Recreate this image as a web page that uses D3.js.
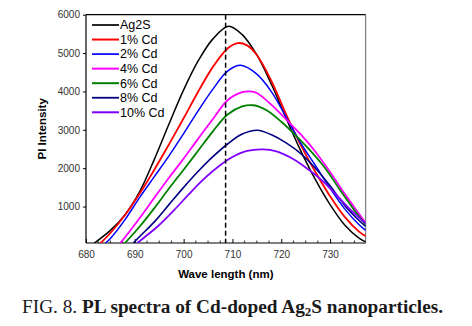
<!DOCTYPE html>
<html>
<head>
<meta charset="utf-8">
<script src="https://cdn.jsdelivr.net/npm/d3@7"></script>
<style>
  body { margin: 0; background: #fff; }
  svg { display: block; font-family: Arial, "Liberation Sans", sans-serif; }
</style>
</head>
<body>
<svg id="chart" width="472" height="326"></svg>
<script>
// PL spectra (wavelength in nm, intensity in counts)
var names = ["Ag2S", "1% Cd", "2% Cd", "4% Cd", "6% Cd", "8% Cd", "10% Cd"];
var colors = ["#000000", "#ff0000", "#0000ff", "#ff00ff", "#008000", "#000080", "#8000ff"];
var widths = [1.5, 1.8, 1.5, 1.8, 1.8, 1.6, 1.8];

var wlAg2S = [681.7, 685, 688, 691, 694, 697, 700, 703, 706, 709.2, 712, 715, 718, 721, 724, 727, 730, 733, 736, 737.3];
var piAg2S = [50, 380, 790, 1390, 2230, 3150, 4040, 4800, 5370, 5700, 5480, 4950, 4180, 3300, 2450, 1700, 1050, 520, 170, 80];

var wlCd1 = [683, 685, 688, 691, 694, 697, 700, 703, 706, 709, 711.1, 713, 715, 718, 721, 724, 727, 730, 733, 736, 737.3];
var piCd1 = [50, 310, 780, 1340, 1960, 2620, 3300, 4000, 4640, 5120, 5260, 5200, 4950, 4270, 3400, 2600, 1900, 1270, 730, 340, 230];

var wlCd2 = [684, 685, 688, 691, 694, 697, 700, 703, 706, 709, 711.7, 715, 718, 721, 724, 727, 730, 733, 736, 737.3];
var piCd2 = [50, 170, 660, 1240, 1780, 2320, 2900, 3500, 4060, 4530, 4680, 4450, 3990, 3330, 2650, 2070, 1480, 940, 520, 380];

var wlCd4 = [687, 688, 691, 694, 697, 700, 703, 706, 709, 712, 713.6, 715, 718, 721, 724, 727, 730, 733, 736, 737.3];
var piCd4 = [50, 200, 700, 1230, 1750, 2250, 2770, 3280, 3770, 3980, 4000, 3960, 3650, 3270, 2880, 2430, 1900, 1330, 800, 570];

var wlCd6 = [688, 691, 694, 697, 700, 703, 706, 709, 712, 714.3, 717, 720, 723, 726, 729, 732, 735, 737.3];
var piCd6 = [50, 480, 960, 1470, 1960, 2460, 2960, 3400, 3610, 3640, 3510, 3210, 2850, 2450, 2000, 1440, 900, 520];

var wlCd8 = [689.7, 691, 694, 697, 700, 703, 706, 709, 712, 715.1, 718, 721, 724, 727, 730, 733, 736, 737.3];
var piCd8 = [50, 220, 600, 1050, 1500, 1920, 2300, 2630, 2890, 2990, 2870, 2660, 2380, 2000, 1540, 1030, 630, 480];

var wlCd10 = [690.5, 692, 695, 698, 701, 704, 707, 710, 713, 716.3, 719, 722, 725, 728, 731, 734, 737.3];
var piCd10 = [50, 200, 520, 900, 1310, 1700, 2030, 2290, 2450, 2490, 2440, 2270, 2020, 1720, 1340, 940, 560];

var xTicks = [680, 690, 700, 710, 720, 730];
var yTicks = [1000, 2000, 3000, 4000, 5000, 6000];
var peakMarker = 708.6;

var wavelengths = [wlAg2S, wlCd1, wlCd2, wlCd4, wlCd6, wlCd8, wlCd10];
var intensities = [piAg2S, piCd1, piCd2, piCd4, piCd6, piCd8, piCd10];

var svg = d3.select("#chart");
var plotLeft = 86, plotRight = 365.7, plotTop = 14.7, plotBottom = 243;

var x = d3.scaleLinear().domain([680, 737.3]).range([plotLeft, plotRight]);
var y = d3.scaleLinear().domain([50, 6000]).range([plotBottom, plotTop]);

svg.append("clipPath").attr("id", "plot-clip")
  .append("rect")
  .attr("x", plotLeft).attr("y", plotTop)
  .attr("width", plotRight - plotLeft).attr("height", plotBottom - plotTop);

// axes
var xAxis = d3.axisBottom(x).tickValues(xTicks).tickSizeInner(-4).tickSizeOuter(0).tickPadding(8);
var yAxis = d3.axisLeft(y).tickValues(yTicks).tickFormat(d3.format("d"))
  .tickSizeInner(3).tickSizeOuter(0).tickPadding(3);

var gx = svg.append("g").attr("transform", "translate(0," + plotBottom + ")").call(xAxis);
var gy = svg.append("g").attr("transform", "translate(" + plotLeft + ",0)").call(yAxis);

// minor ticks on x every 2.5 nm
svg.append("g").selectAll("line")
  .data(d3.range(682.5, 737.3, 2.5).filter(function(v) { return v % 10 !== 0; }))
  .enter().append("line")
  .attr("x1", function(d) { return x(d); }).attr("x2", function(d) { return x(d); })
  .attr("y1", plotBottom).attr("y2", plotBottom - 2.5)
  .attr("stroke", "#000").attr("stroke-width", 0.8);

[gx, gy].forEach(function(g) {
  g.select(".domain").remove();
  g.selectAll("text").attr("font-size", 10).attr("fill", "#333")
    .style("font-family", "Arial, 'Liberation Sans', sans-serif");
  g.selectAll("line").attr("stroke", "#000");
});

// frame
svg.append("line").attr("x1", plotLeft).attr("x2", plotRight).attr("y1", plotTop).attr("y2", plotTop)
  .attr("stroke", "#000").attr("stroke-width", 1.2);
svg.append("line").attr("x1", plotRight).attr("x2", plotRight).attr("y1", plotTop).attr("y2", plotBottom)
  .attr("stroke", "#666").attr("stroke-width", 1);
svg.append("line").attr("x1", plotLeft).attr("x2", plotLeft).attr("y1", plotTop).attr("y2", plotBottom)
  .attr("stroke", "#000").attr("stroke-width", 1.2);
svg.append("line").attr("x1", plotLeft).attr("x2", plotRight).attr("y1", plotBottom).attr("y2", plotBottom)
  .attr("stroke", "#000").attr("stroke-width", 1.2);

// spectra
var line = d3.line()
  .x(function(d) { return x(d[0]); })
  .y(function(d) { return y(d[1]); })
  .curve(d3.curveCatmullRom.alpha(0.5));

var plot = svg.append("g").attr("clip-path", "url(#plot-clip)");
names.forEach(function(name, i) {
  var pts = wavelengths[i].map(function(w, j) { return [w, intensities[i][j]]; });
  plot.append("path")
    .datum(pts)
    .attr("d", line)
    .attr("fill", "none")
    .attr("stroke", colors[i])
    .attr("stroke-width", widths[i]);
});

// dashed marker at the Ag2S peak
plot.append("line")
  .attr("x1", x(peakMarker)).attr("x2", x(peakMarker))
  .attr("y1", plotTop).attr("y2", plotBottom)
  .attr("stroke", "#000").attr("stroke-width", 1.5)
  .attr("stroke-dasharray", "5,3");

// legend
var legend = svg.append("g");
names.forEach(function(name, i) {
  var ly = 25 + i * 14.55;
  legend.append("line")
    .attr("x1", 92).attr("x2", 119).attr("y1", ly).attr("y2", ly)
    .attr("stroke", colors[i]).attr("stroke-width", widths[i] + 0.2);
  legend.append("text")
    .attr("x", 120).attr("y", ly + 4.3)
    .attr("font-size", 12.5).attr("fill", "#000")
    .text(name);
});

// axis titles
svg.append("text")
  .attr("transform", "translate(46," + ((plotTop + plotBottom) / 2) + ") rotate(-90)")
  .attr("text-anchor", "middle")
  .attr("font-size", 11.5).attr("font-weight", "bold")
  .text("PI Intensity");

svg.append("text")
  .attr("x", (plotLeft + plotRight) / 2).attr("y", 277.5)
  .attr("text-anchor", "middle")
  .attr("font-size", 11.5).attr("font-weight", "bold")
  .text("Wave length (nm)");

// caption
var cap = svg.append("text")
  .attr("x", 22).attr("y", 313)
  .style("font-family", "'Liberation Serif', 'Times New Roman', serif")
  .attr("font-size", 19.3).attr("fill", "#1a1a1a");
cap.append("tspan").text("FIG. 8. ");
cap.append("tspan").attr("font-weight", "bold").text("PL spectra of Cd-doped Ag");
cap.append("tspan").attr("font-weight", "bold").attr("font-size", 13).attr("dy", 3).text("2");
cap.append("tspan").attr("font-weight", "bold").attr("dy", -3).text("S nanoparticles.");
</script>
</body>
</html>
